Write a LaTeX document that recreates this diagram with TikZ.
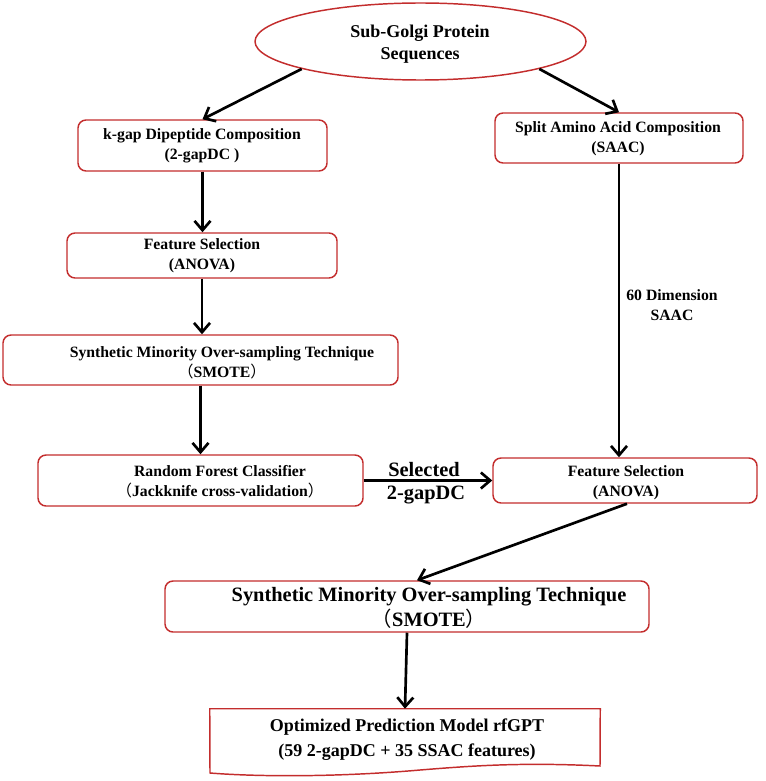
\documentclass[tikz,border=0pt]{standalone}
\usepackage{fontspec}
\setmainfont{Liberation Serif}
\newfontfamily\cjk{Noto Sans CJK SC}
\usetikzlibrary{shapes.geometric,arrows.meta}
\definecolor{boxred}{RGB}{195,45,45}
\newcommand{\lp}{{\cjk\mdseries （}}
\newcommand{\rp}{{\cjk\mdseries ）}}
\tikzset{
  pbox/.style 2 args={draw=boxred, line width=1.1pt, rounded corners=6pt, inner sep=0pt,
    minimum width=#1*0.75pt, minimum height=#2*0.75pt},
  txt/.style={inner sep=0pt, align=center, font=\bfseries\fontsize{11.8}{15}\selectfont},
  bigtxt/.style={inner sep=0pt, align=center, font=\bfseries\fontsize{15.3}{18.75}\selectfont},
  conn/.style={line width=2pt, -{Straight Barb[length=7pt,width=12pt,line width=2pt]}},
}
\begin{document}
\begin{tikzpicture}[x=0.75pt,y=-0.75pt]
\useasboundingbox (0,0) rectangle (765,781);
% top ellipse
\node[ellipse, draw=boxred, line width=1.1pt, inner sep=0pt,
      minimum width=331*0.75pt, minimum height=77*0.75pt] (ell) at (420.5,41.5) {};
\node[inner sep=0pt, align=center, font=\bfseries\fontsize{13.5}{16.5}\selectfont] (tell) at (420,44) {Sub-Golgi Protein\\Sequences};
% boxes
\node[pbox={249}{51}] (b1) at (202.5,145.5) {};
\node[txt] (t1) at (202,145.5) {k-gap Dipeptide Composition\\(2-gapDC )};
\node[pbox={248}{50}] (b2) at (619,138) {};
\node[txt] (t2) at (618,139) {Split Amino Acid Composition\\(SAAC)};
\node[pbox={270}{45}] (b3) at (202,255.5) {};
\node[txt] (t3) at (202,255.5) {Feature Selection\\(ANOVA)};
\node[pbox={395}{50}] (b4) at (200.5,360) {};
\node[txt] (t4) at (222,363) {Synthetic Minority Over-sampling Technique\\\lp SMOTE\rp};
\node[pbox={325}{51}] (b5) at (200.5,480.5) {};
\node[txt] (t5) at (220,482) {Random Forest Classifier\\\lp Jackknife cross-validation\rp};
\node[pbox={264}{45}] (b6) at (625,480.5) {};
\node[txt] (t6) at (626,483) {Feature Selection\\(ANOVA)};
\node[pbox={484}{51}] (b7) at (407,606.5) {};
\node[bigtxt] (t7) at (429,607.5) {Synthetic Minority Over-sampling Technique\\\lp SMOTE\rp};
% document shape
\node[inner sep=0pt, minimum width=390*0.75pt, minimum height=61*0.75pt] (b8) at (405,739.5) {};
\draw[boxred, line width=1.1pt] (b8.north west) -- (b8.north east) -- (600,766)
  .. controls (520,762) and (470,766) .. (420,770)
  .. controls (340,777) and (260,777) .. (210,773) -- cycle;
\node[inner sep=0pt, align=center, font=\bfseries\fontsize{13.5}{18.75}\selectfont] (t8) at (407,739.5) {Optimized Prediction Model rfGPT\\(59 2-gapDC + 35 SSAC features)};
% labels
\node[bigtxt] (lsel) at (424,470) {Selected};
\node[bigtxt] (lgap) at (426,495) {2-gapDC};
\node[txt] (ldim) at (672,305) {60 Dimension\\SAAC};
% connectors
\draw[conn] (ell.193) -- (b1.north);
\draw[conn] (ell.347) -- (b2.north);
\draw[conn] (b1.south) -- (b1.south |- b3.north);
\draw[conn] (b3.south) -- (b3.south |- b4.north);
\draw[conn] (b4.south) -- (b4.south |- b5.north);
\draw[conn] (b2.south) -- (b2.south |- b6.north);
\draw[conn] (b5.east) -- (b6.west);
\draw[conn] ([xshift=1.5pt]b6.south) -- ([xshift=7.5pt]b7.north);
\draw[conn] (b7.south) -- (b8.north);
\end{tikzpicture}
\end{document}
